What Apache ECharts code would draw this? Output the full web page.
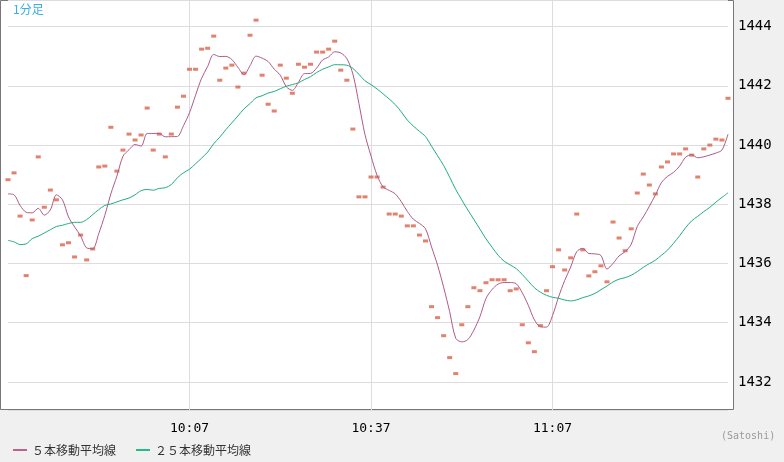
<!DOCTYPE html>
<html><head><meta charset="utf-8">
<script src="https://cdn.jsdelivr.net/npm/echarts@6/dist/echarts.min.js"></script>
<style>html,body{margin:0;padding:0;background:#f0f0f0}#c{width:784px;height:462px}</style>
</head><body><div id="c"></div>
<script>
// 1分足 price readings, 9:37 .. 11:36
var prices = [
  1438.83, 1439.06, 1437.60, 1435.59, 1437.47, 1439.60, 1437.90, 1438.48, 1438.15, 1436.63,
  1436.70, 1436.22, 1436.96, 1436.12, 1436.49, 1439.26, 1439.29, 1440.60, 1439.12, 1439.83,
  1440.37, 1440.17, 1440.34, 1441.25, 1439.83, 1440.37, 1439.60, 1440.37, 1441.28, 1441.65,
  1442.56, 1442.56, 1443.24, 1443.27, 1443.68, 1442.19, 1442.60, 1442.70, 1441.96, 1442.43,
  1443.71, 1444.22, 1442.36, 1441.38, 1441.15, 1442.70, 1442.26, 1441.75, 1442.73, 1442.63,
  1442.73, 1443.14, 1443.14, 1443.24, 1443.51, 1442.53, 1442.19, 1440.54, 1438.25, 1438.25,
  1438.92, 1438.92, 1438.58, 1437.67, 1437.67, 1437.60, 1437.27, 1437.27, 1436.96, 1436.76,
  1434.54, 1434.17, 1433.56, 1432.82, 1432.28, 1433.93, 1434.54, 1435.18, 1435.08, 1435.35,
  1435.45, 1435.45, 1435.45, 1435.08, 1435.14, 1433.93, 1433.32, 1433.02, 1433.90, 1435.08,
  1435.89, 1436.46, 1435.78, 1436.19, 1437.67, 1436.46, 1435.58, 1435.72, 1435.92, 1435.38,
  1437.40, 1436.86, 1436.43, 1437.17, 1438.38, 1439.02, 1438.65, 1438.35, 1439.26, 1439.43,
  1439.70, 1439.70, 1439.87, 1439.66, 1438.92, 1439.87, 1440.00, 1440.20, 1440.17, 1441.58
];
// moving average values before enough bars exist in this window
var ma5Head = [1438.35, 1438.32, 1437.96, 1437.73];
var ma25Head = [1436.78, 1436.73, 1436.64, 1436.66, 1436.84, 1436.92, 1437.03, 1437.14,
  1437.25, 1437.29, 1437.35, 1437.39, 1437.39, 1437.48, 1437.65, 1437.82, 1437.96, 1438.01,
  1438.08, 1438.15, 1438.21, 1438.32, 1438.46, 1438.50];
var tickLabels = ['10:07', '10:37', '11:07'];

var times = [];
for (var i = 0; i < prices.length; i++) {
  var m = 9 * 60 + 37 + i;
  var mm = m % 60;
  times.push(Math.floor(m / 60) + ':' + (mm < 10 ? '0' + mm : mm));
}
function movingAvg(n, head) {
  var out = [];
  for (var i = 0; i < prices.length; i++) {
    if (i < n - 1) { out.push(head[i]); continue; }
    var s = 0;
    for (var j = i - n + 1; j <= i; j++) s += prices[j];
    out.push(+(s / n).toFixed(3));
  }
  return out;
}
function isTick(i, v) { return tickLabels.indexOf(v) >= 0; }

var chart = echarts.init(document.getElementById('c'));
var font = "'DejaVu Sans Mono', 'Noto Sans CJK JP', monospace";
chart.setOption({
  backgroundColor: '#f0f0f0',
  animation: false,
  grid: { left: 8, right: 56, top: 0, bottom: 52 },
  graphic: [
    { type: 'rect', z: -10, shape: { x: 0.5, y: 0.5, width: 733, height: 409 },
      style: { fill: '#fff', stroke: '#777', lineWidth: 1 } },
    { type: 'text', left: 13, top: 3, style: { text: '1分足', fill: '#3aaee6', font: "12px 'Noto Sans CJK JP'" } },
    { type: 'text', left: 721, top: 431, style: { text: '(Satoshi)', fill: '#999', font: "10px " + font } }
  ],
  legend: {
    left: 8, top: 439, itemWidth: 14, itemHeight: 2, itemGap: 20, icon: 'rect',
    textStyle: { color: '#333', fontSize: 12, fontFamily: "'Noto Sans CJK JP'" },
    data: ['５本移動平均線', '２５本移動平均線']
  },
  xAxis: {
    type: 'category', data: times, boundaryGap: false,
    axisLine: { show: false }, axisTick: { show: false },
    axisLabel: { interval: isTick, color: '#000', fontSize: 13, fontFamily: font, margin: 12 },
    splitLine: { show: true, interval: isTick, lineStyle: { color: '#ddd' } }
  },
  yAxis: {
    type: 'value', position: 'right', min: 1431.05, max: 1444.9, splitNumber: 7,
    axisLine: { show: false }, axisTick: { show: false },
    axisLabel: { color: '#000', fontSize: 14, fontFamily: font, margin: 10,
      formatter: function (v) { return (Math.abs(v - Math.round(v)) < 1e-6 && Math.round(v) % 2 === 0) ? v : ''; } },
    splitLine: { lineStyle: { color: '#ddd' } }
  },
  series: [
    { name: 'price', type: 'scatter', data: prices, symbol: 'rect', symbolSize: [5, 3],
      itemStyle: { color: '#d9634a' }, z: 3 },
    { name: '５本移動平均線', type: 'line', data: movingAvg(5, ma5Head), symbol: 'none', smooth: 0.3,
      lineStyle: { width: 1, color: '#b05a86' }, itemStyle: { color: '#c0608e' }, z: 4 },
    { name: '２５本移動平均線', type: 'line', data: movingAvg(25, ma25Head), symbol: 'none', smooth: 0.3,
      lineStyle: { width: 1, color: '#1fae7a' }, itemStyle: { color: '#1fbf80' }, z: 4 }
  ]
});
</script></body></html>
